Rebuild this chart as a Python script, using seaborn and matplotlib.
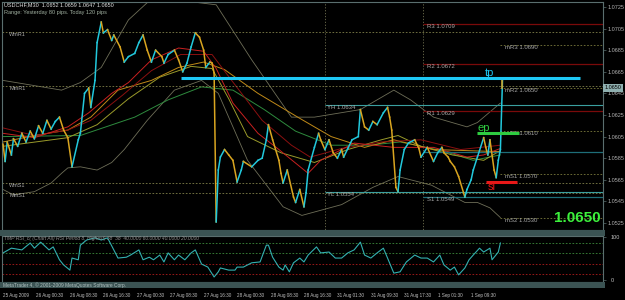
import numpy as np
import pandas as pd
import matplotlib
matplotlib.use("Agg")
import matplotlib.pyplot as plt
import matplotlib.transforms as mtransforms
from matplotlib.patches import Rectangle
import seaborn as sns

plt.rcParams['font.family'] = ['Liberation Sans', 'DejaVu Sans']

# --- price path (bar index, price) ---
price_bar = [0, 1, 2, 4, 5, 7, 9, 11, 13, 15,
             17, 19, 21, 23, 25, 27, 29, 31, 33, 36,
             37, 39, 41, 42, 44, 45, 47, 48, 50, 52,
             53, 56, 58, 60, 63, 65, 67, 69, 71, 73,
             76, 77, 79, 82, 84, 86, 88, 90, 92, 94,
             96, 97, 99, 100, 101, 102, 103, 104, 106, 108,
             110, 112, 114, 115, 119, 122, 124, 126, 127, 129,
             132, 133, 134, 136, 139, 140, 142, 144, 145, 146,
             149, 151, 152, 154, 156, 158, 160, 162, 163, 165,
             167, 170, 171, 173, 175, 177, 179, 182, 184, 185,
             186, 188, 189, 190, 192, 194, 197, 199, 200, 203,
             206, 208, 210, 211, 213, 214, 216, 218, 221, 222,
             224, 225, 227, 230, 231, 232, 233, 235, 236, 237,
             238, 239, 239]
price_val = [1.0598, 1.0582, 1.0600, 1.0588, 1.0603, 1.0596, 1.0608, 1.0600, 1.0610, 1.0603,
             1.0615, 1.0608, 1.0620, 1.0612, 1.0619, 1.0623, 1.0611, 1.0604, 1.0577, 1.0602,
             1.0608, 1.0645, 1.0650, 1.0632, 1.0657, 1.0692, 1.0711, 1.0701, 1.0704, 1.0694,
             1.0699, 1.0688, 1.0674, 1.0679, 1.0682, 1.0692, 1.0699, 1.0685, 1.0674, 1.0685,
             1.0679, 1.0673, 1.0681, 1.0685, 1.0676, 1.0665, 1.0673, 1.0688, 1.0701, 1.0697,
             1.0685, 1.0669, 1.0674, 1.0673, 1.0664, 1.0526, 1.0574, 1.0586, 1.0593, 1.0588,
             1.0583, 1.0563, 1.0574, 1.0582, 1.0577, 1.0583, 1.0585, 1.0602, 1.0616, 1.0602,
             1.0583, 1.0571, 1.0562, 1.0574, 1.0549, 1.0544, 1.0556, 1.0540, 1.0553, 1.0574,
             1.0595, 1.0608, 1.0602, 1.0593, 1.0602, 1.0590, 1.0585, 1.0593, 1.0586, 1.0594,
             1.0602, 1.0605, 1.0630, 1.0614, 1.0611, 1.0619, 1.0616, 1.0627, 1.0632, 1.0623,
             1.0611, 1.0558, 1.0554, 1.0574, 1.0593, 1.0599, 1.0602, 1.0594, 1.0586, 1.0595,
             1.0582, 1.0590, 1.0595, 1.0590, 1.0586, 1.0582, 1.0577, 1.0568, 1.0549, 1.0556,
             1.0565, 1.0574, 1.0586, 1.0604, 1.0595, 1.0588, 1.0602, 1.0574, 1.0567, 1.0583,
             1.0593, 1.0657, 1.0650]

# --- moving averages ---
ma_red_bar = [0, 15, 31, 41, 52, 60, 71, 84, 96, 102, 110, 122, 132, 146, 152, 168, 187, 206, 222, 230, 238]
ma_red_val = [1.0608, 1.0604, 1.0614, 1.0627, 1.0645, 1.0655, 1.0676, 1.0687, 1.0684, 1.0668, 1.0636,
              1.0608, 1.0593, 1.0571, 1.0583, 1.0599, 1.0595, 1.0595, 1.0586, 1.0588, 1.0594]
ma_dred_bar = [0, 15, 31, 42, 57, 71, 85, 100, 109, 124, 138, 147, 162, 181, 200, 219, 238]
ma_dred_val = [1.0613, 1.0606, 1.0611, 1.0620, 1.0643, 1.0666, 1.0681, 1.0681, 1.0658, 1.0620,
               1.0597, 1.0586, 1.0594, 1.0600, 1.0602, 1.0593, 1.0597]
ma_gold_bar = [0, 15, 31, 42, 55, 71, 84, 96, 106, 122, 141, 157, 173, 187, 206, 238]
ma_gold_val = [1.0600, 1.0606, 1.0611, 1.0623, 1.0648, 1.0657, 1.0669, 1.0674, 1.0667, 1.0645,
               1.0623, 1.0605, 1.0595, 1.0602, 1.0593, 1.0591]
ma_olive_bar = [0, 31, 45, 60, 75, 90, 100, 108, 117, 133, 149, 165, 181, 189, 200, 215, 230, 238]
ma_olive_val = [1.0596, 1.0604, 1.0616, 1.0640, 1.0660, 1.0670, 1.0668, 1.0640, 1.0605, 1.0590,
                1.0581, 1.0593, 1.0602, 1.0606, 1.0596, 1.0588, 1.0583, 1.0592]
ma_green_bar = [0, 37, 63, 79, 95, 110, 125, 140, 157, 175, 190, 210, 225, 238]
ma_green_val = [1.0605, 1.0606, 1.0623, 1.0639, 1.0651, 1.0648, 1.0630, 1.0610, 1.0597, 1.0597,
                1.0600, 1.0592, 1.0583, 1.0588]

# --- bands ---
bb_up_bar = [0, 28, 37, 47, 60, 69, 85, 102, 119, 138, 149, 171, 187, 195, 206, 222, 227, 238]
bb_up_val = [1.0657, 1.0648, 1.0655, 1.0669, 1.0713, 1.0729, 1.0731, 1.0727, 1.0676, 1.0623,
             1.0623, 1.0630, 1.0648, 1.0639, 1.0623, 1.0614, 1.0618, 1.0636]
bb_lo_bar = [0, 5, 15, 23, 28, 31, 37, 45, 52, 58, 69, 82, 95, 103, 117, 134, 143, 162, 177, 189,
             205, 221, 227, 233, 238]
bb_lo_val = [1.0556, 1.0551, 1.0554, 1.0562, 1.0571, 1.0576, 1.0577, 1.0574, 1.0581, 1.0593,
             1.0620, 1.0648, 1.0657, 1.0645, 1.0583, 1.0540, 1.0532, 1.0542, 1.0558, 1.0568,
             1.0560, 1.0544, 1.0544, 1.0539, 1.0530]

# --- oscillator ---
osc_bar = [0, 4, 9, 13, 15, 18, 22, 24, 27, 29,
           32, 33, 36, 37, 40, 44, 47, 50, 53, 55,
           59, 61, 65, 67, 70, 72, 75, 77, 79, 82,
           84, 87, 90, 92, 95, 98, 101, 103, 104, 108,
           111, 112, 115, 119, 123, 126, 127, 129, 132, 134,
           135, 137, 139, 142, 144, 146, 150, 152, 156, 159,
           162, 165, 168, 171, 173, 176, 179, 182, 184, 187,
           190, 193, 197, 200, 203, 206, 209, 211, 214, 216,
           218, 221, 223, 225, 228, 230, 233, 234, 237, 238]
osc_val = [63, 74, 70, 86, 74, 88, 70, 77, 47, 35,
           23, 51, 47, 81, 93, 98, 93, 98, 70, 51,
           53, 58, 70, 47, 53, 47, 58, 42, 63, 47,
           58, 47, 63, 70, 37, 30, 7, 19, 28, 23,
           23, 30, 30, 40, 42, 81, 81, 53, 30, 23,
           35, 19, 40, 51, 42, 58, 77, 63, 65, 51,
           51, 63, 70, 88, 58, 51, 63, 74, 51, 16,
           19, 42, 58, 51, 51, 42, 58, 35, 23, 30,
           12, 28, 47, 58, 74, 65, 74, 47, 65, 86]
osc_levels = [86, 63, 37, 14]

# --- levels ---
pivot_names = ["R3", "R2", "R1", "S1"]
pivot_vals = [1.0709, 1.0672, 1.0629, 1.0549]
pivot_p = 1.0591
mid_names = ["mR3", "mR2", "mR1", "mS1", "mS2"]
mid_vals = [1.0690, 1.0650, 1.0610, 1.0570, 1.0530]
yest_names = ["YH", "YL"]
yest_vals = [1.0634, 1.0554]
wm_names = ["WmR1", "MmR1", "WmS1", "MmS1"]
wm_vals = [1.0702, 1.0652, 1.0562, 1.0553]
trade_names = ["tp", "ep", "sl"]
trade_vals = [1.0659, 1.0608, 1.0563]
trade_start = [85, 227, 231]
trade_end = [276, 247, 246]
day_start = [154, 201]
last_price = 1.0650

price_ticks = [1.0525, 1.0545, 1.0565, 1.0585, 1.0605, 1.0625, 1.0645, 1.0665, 1.0685, 1.0705, 1.0725]
date_bars = [0, 16, 32, 48, 64, 80, 96, 112, 128, 144, 160, 176, 192, 208, 224]
date_labels = ["25 Aug 2009", "26 Aug 00:30", "26 Aug 08:30", "26 Aug 16:30", "27 Aug 00:30",
               "27 Aug 08:30", "27 Aug 16:30", "28 Aug 00:30", "28 Aug 08:30", "28 Aug 16:30",
               "31 Aug 01:30", "31 Aug 09:30", "31 Aug 17:30", "1 Sep 01:30", "1 Sep 09:30"]

UP = "#22c8dc"
DOWN = "#d9a520"
LABEL = "#a8a8a8"
AXIS = "#5a6e6e"
XMAX = 287.1

fig = plt.figure(figsize=(6.25, 3.0), dpi=100, facecolor="black")
ax = fig.add_axes([2/625, 70/300, 601/625, 228/300], facecolor="black")
osc = fig.add_axes([2/625, 18/300, 601/625, 46/300], facecolor="black")

# bands and moving averages
for bars, vals, col, lw in [(bb_up_bar, bb_up_val, "#6e6e58", 0.6),
                            (bb_lo_bar, bb_lo_val, "#6e6e58", 0.6),
                            (ma_green_bar, ma_green_val, "#2e8b3e", 0.7),
                            (ma_olive_bar, ma_olive_val, "#9a9a2a", 0.7),
                            (ma_gold_bar, ma_gold_val, "#c08a18", 0.7),
                            (ma_dred_bar, ma_dred_val, "#8b1010", 0.7),
                            (ma_red_bar, ma_red_val, "#c82020", 0.7)]:
    sns.lineplot(x=bars, y=vals, ax=ax, color=col, lw=lw, estimator=None, sort=False)

# price
for i in range(len(price_bar) - 1):
    c = UP if price_val[i + 1] >= price_val[i] else DOWN
    ax.plot(price_bar[i:i + 2], price_val[i:i + 2], color=c, lw=1.1, zorder=5)

# level lines
ax.hlines(wm_vals, -0.5, XMAX, colors="#80804a", linestyles=(0, (2, 2)), lw=0.6)
for name, v in zip(wm_names, wm_vals):
    ax.text(3, v, name, color=LABEL, fontsize=4, va="top")
ax.vlines(day_start, 1.0500, 1.0750, colors="#707050", linestyles=(0, (1.5, 2)), lw=0.6)
ax.hlines(pivot_vals[:3], day_start[1], XMAX, colors="#7a0a0a", lw=0.9)
ax.hlines([pivot_p, pivot_vals[3]], day_start[1], XMAX, colors="#1e6e78", lw=0.9)
for name, v in zip(pivot_names, pivot_vals):
    ax.text(day_start[1] + 2, v, f"{name} {v:.4f}", color=LABEL, fontsize=4.3, va="top")
ax.hlines(yest_vals, day_start[0], XMAX, colors="#3aa0a0", lw=0.8)
for name, v in zip(yest_names, yest_vals):
    ax.text(day_start[0] + 1, v, f"{name} {v:.4f}", color=LABEL, fontsize=4.3, va="top")
ax.hlines(mid_vals, 238, XMAX, colors="#7a7a3c", linestyles=(0, (2, 2)), lw=0.6)
for name, v in zip(mid_names, mid_vals):
    ax.text(240, v, f"{name} {v:.4f}", color=LABEL, fontsize=4.3, va="top")

# trade levels
trade_cols = ["#1ec8f5", "#2ecc40", "#e81818"]
for name, v, s, e, c in zip(trade_names, trade_vals, trade_start, trade_end, trade_cols):
    ax.hlines(v, s, e, colors=c, lw=2.2, zorder=8)
ax.text(233, trade_vals[0], "tp", color=trade_cols[0], fontsize=8, ha="center", va="bottom", zorder=9)
ax.text(230, trade_vals[1], "ep", color=trade_cols[1], fontsize=8, ha="center", va="bottom", zorder=9)
ax.text(234, trade_vals[2], "sl", color=trade_cols[2], fontsize=8, ha="center", va="top", zorder=9)

# header and big price
ax.text(0.003, 0.987, "USDCHF,M30  1.0652 1.0659 1.0647 1.0650", transform=ax.transAxes,
        color="#e0e0e0", fontsize=4, va="center")
ax.text(0.003, 0.956, "Range: Yesterday 80 pips. Today 120 pips", transform=ax.transAxes,
        color="#a0b0a0", fontsize=4, va="center")
ax.text(0.958, 0.053, f"{last_price:.4f}", transform=ax.transAxes, ha="center", va="center",
        fontsize=11, fontweight="bold", color="#3cf03c")
trans = mtransforms.blended_transform_factory(ax.transAxes, ax.transData)
ax.text(1.003, last_price, f"{last_price:.4f}", transform=trans, ha="left", va="center",
        fontsize=4, color="black", clip_on=False,
        bbox=dict(boxstyle="square,pad=0.25", fc="#8fb0b0", ec="none"))

ax.set_xlim(-0.5, XMAX)
ax.set_ylim(1.05185, 1.07296)
ax.set_xticks([])
ax.yaxis.tick_right()
ax.set_yticks(price_ticks)
ax.set_yticklabels([f"{v:.4f}" for v in price_ticks])
ax.tick_params(axis="y", colors=AXIS, labelcolor="#b0b0b0", labelsize=4, length=2, width=0.5, pad=1.5)
ax.set_xlabel("")
ax.set_ylabel("")
ax.grid(False)

# oscillator panel
osc.hlines(osc_levels[:2], -0.5, XMAX, colors="#3c8c3c", linestyles=(0, (2, 2)), lw=0.6)
osc.hlines(osc_levels[2:], -0.5, XMAX, colors="#b01c1c", linestyles=(0, (2, 2)), lw=0.6)
sns.lineplot(x=osc_bar, y=osc_val, ax=osc, color="#33b0b0", lw=0.8, estimator=None, sort=False)
osc.text(0.003, 0.955, "TMP RSI_c( (Chart All) RSI Period 8, Highest) 38  38  40.0000 60.0000 40.0000 20.0000",
         transform=osc.transAxes, color="#909090", fontsize=3.6, style="italic", va="center")
osc.set_xlim(-0.5, XMAX)
osc.set_ylim(-4.65, 102.3)
osc.yaxis.tick_right()
osc.set_yticks([0, 100])
osc.set_yticklabels(["0", "100"])
osc.set_xticks(date_bars)
osc.set_xticklabels(date_labels)
for lbl in osc.get_xticklabels():
    lbl.set_ha("left")
osc.tick_params(axis="both", colors=AXIS, labelcolor="#c0c0c0", labelsize=4, length=2, width=0.5)
osc.tick_params(axis="x", pad=6, labelsize=3.3)
osc.set_xlabel("")
osc.set_ylabel("")
osc.grid(False)

for a in (ax, osc):
    for s in a.spines.values():
        s.set_color(AXIS)
        s.set_linewidth(0.8)

# window separators
fig.add_artist(Rectangle((0, 64/300), 605/625, 6/300, transform=fig.transFigure,
                         facecolor="#3b5353", edgecolor="none"))
fig.add_artist(Rectangle((0, 12/300), 605/625, 6/300, transform=fig.transFigure,
                         facecolor="#3b5353", edgecolor="none"))
fig.text(3/625, 15/300, "MetaTrader 4, \u00a9 2001-2009 MetaQuotes Software Corp.",
         fontsize=3.5, color="#b0c0c0", va="center")

fig.savefig("out.png", dpi=100, facecolor="black")
